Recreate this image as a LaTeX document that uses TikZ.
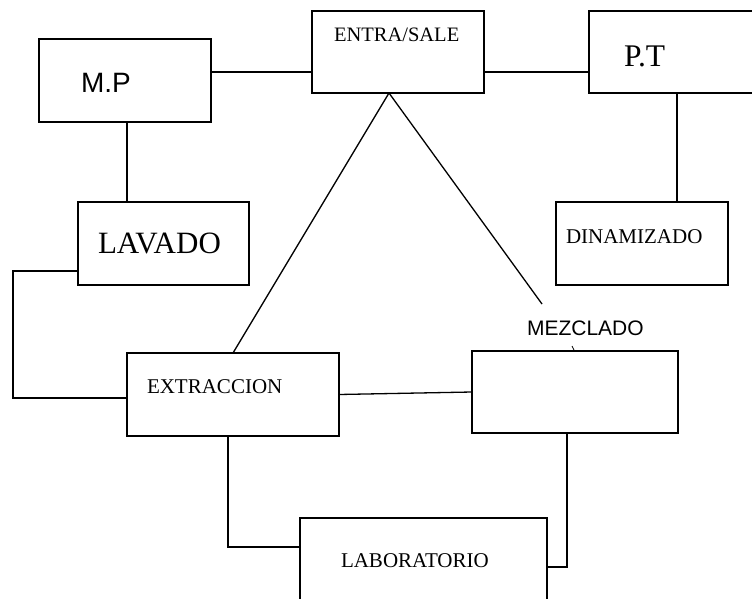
\documentclass[tikz,border=0pt]{standalone}
\usepackage{fontspec}
\setmainfont{Liberation Serif}
\newfontfamily\arialf{Liberation Sans}
\begin{document}
\begin{tikzpicture}[x=1pt,y=-1pt,
  box/.style={draw,line width=1.3pt,rectangle,inner sep=0pt,outer sep=0pt},
  lbl/.style={anchor=base west,inner sep=0pt,outer sep=0pt},
  link/.style={line width=1.3pt}]
\useasboundingbox (0,0) rectangle (752,599);
% boxes
\node[box,minimum width=172pt,minimum height=83pt] (mp) at (125,80.5) {};
\node[box,minimum width=172pt,minimum height=82pt] (es) at (398,52) {};
\node[box,minimum width=181pt,minimum height=82pt] (pt) at (679.5,52) {};
\node[box,minimum width=172pt,minimum height=83pt] (din) at (642,243.5) {};
\node[box,minimum width=171pt,minimum height=83pt] (lav) at (163.5,243.5) {};
\node[box,minimum width=212pt,minimum height=83pt] (ext) at (233,394.5) {};
\node[box,minimum width=206pt,minimum height=82pt] (mez) at (575,392) {};
\node[box,minimum width=247pt,minimum height=92pt] (lab) at (423.5,564) {};
% labels
\node[lbl,font=\arialf\fontsize{28}{32}\selectfont] (tmp) at (81,93) {M.P};
\node[lbl,font=\fontsize{20.5}{24}\selectfont] (tes) at (334,42) {ENTRA/SALE};
\node[lbl,font=\fontsize{31.5}{36}\selectfont] (tpt) at (624,67) {P.T};
\node[lbl,font=\fontsize{21}{25}\selectfont] (tdin) at (566,243) {DINAMIZADO};
\node[lbl,font=\fontsize{31}{36}\selectfont] (tlav) at (98,253) {LAVADO};
\node[lbl,font=\fontsize{21}{25}\selectfont] (text) at (147,393) {EXTRACCION};
\node[lbl,font=\arialf\fontsize{21}{25}\selectfont] (tmez) at (527,335) {MEZCLADO};
\node[lbl,font=\fontsize{21}{25}\selectfont] (tlab) at (341,567) {LABORATORIO};
% free ends
\coordinate (mzend) at (542,304);
\coordinate (tickA) at (572,346);
\coordinate (tickB) at (574,350);
% connectors
\draw[link] ([yshift=8.5]mp.east) -- ([yshift=-20]es.west);
\draw[link] ([yshift=-20]es.east) -- ([yshift=-20]pt.west);
\draw[link] ([xshift=35]din.north) -- ([xshift=35]din.north |- pt.south);
\draw[link] ([xshift=2]mp.south) -- ([xshift=2]mp.south |- lav.north);
\draw[link] ([yshift=-27.5]lav.west) -- ++(-65,0) |- ([yshift=-3.5]ext.west);
\draw[link] ([xshift=-9]es.south) -- (ext.north);
\draw[link] ([xshift=-9]es.south) -- (mzend);
\draw[line width=0.8pt] (tickA) -- (tickB);
\draw[link] (ext.east) -- (mez.west);
\draw[link] ([xshift=-5]ext.south) |- ([yshift=17]lab.west);
\draw[link] ([xshift=-8]mez.south) |- ([yshift=-3]lab.east);
\end{tikzpicture}
\end{document}
